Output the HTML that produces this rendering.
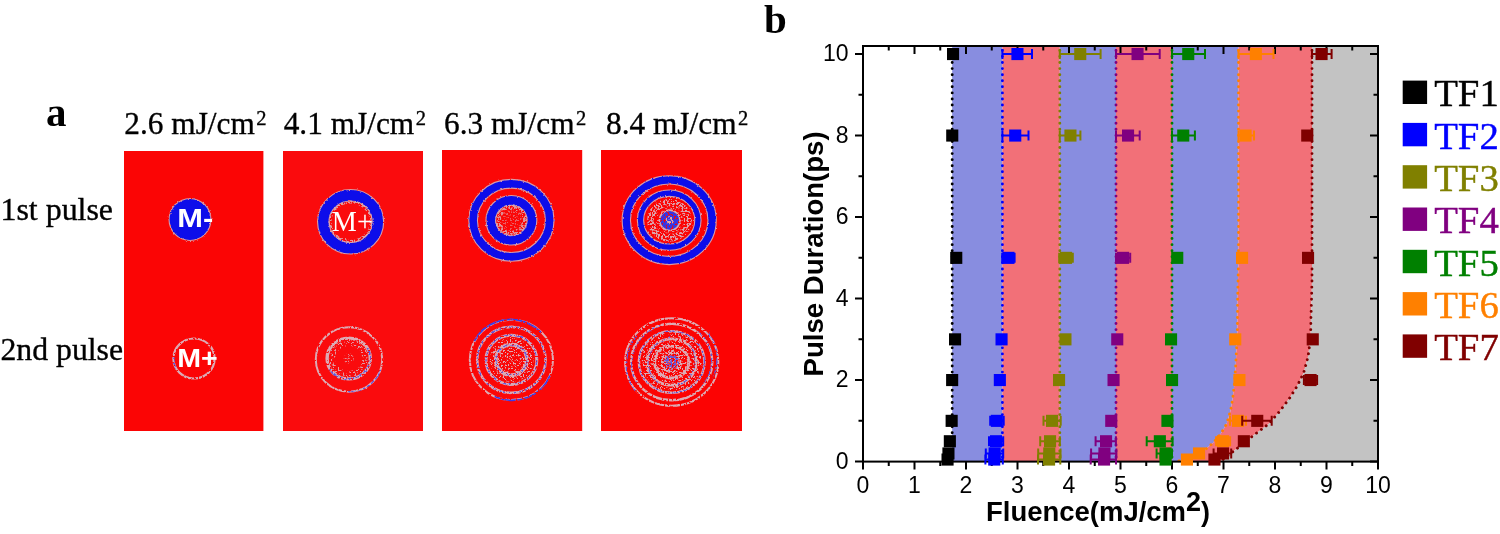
<!DOCTYPE html>
<html lang="en"><head><meta charset="utf-8"><title>Figure</title>
<style>
html,body{margin:0;padding:0;background:#fff}
body{width:1500px;height:534px;overflow:hidden}
svg{display:block}
.serif{font-family:"Liberation Serif",serif}
.sans{font-family:"Liberation Sans",sans-serif}
</style></head><body>
<svg width="1500" height="534" viewBox="0 0 1500 534">
<defs>
<filter id="rough" x="-10%" y="-10%" width="120%" height="120%"><feTurbulence type="fractalNoise" baseFrequency="0.6" numOctaves="2" seed="3" result="n"/><feDisplacementMap in="SourceGraphic" in2="n" scale="2.4" xChannelSelector="R" yChannelSelector="G"/></filter>
<filter id="dense" x="-10%" y="-10%" width="120%" height="120%"><feTurbulence type="fractalNoise" baseFrequency="0.5" numOctaves="2" seed="11" result="n"/><feColorMatrix in="n" type="matrix" values="0 0 0 0 0 0 0 0 0 0 0 0 0 0 0 9 0 0 0 -3.3" result="m"/><feDisplacementMap in="SourceGraphic" in2="n" scale="1.6" xChannelSelector="G" yChannelSelector="B" result="d"/><feComposite in="d" in2="m" operator="in"/></filter>
<filter id="mid" x="-10%" y="-10%" width="120%" height="120%"><feTurbulence type="fractalNoise" baseFrequency="0.55" numOctaves="2" seed="23" result="n"/><feColorMatrix in="n" type="matrix" values="0 0 0 0 0 0 0 0 0 0 0 0 0 0 0 10 0 0 0 -4.7" result="m"/><feDisplacementMap in="SourceGraphic" in2="n" scale="2.0" xChannelSelector="G" yChannelSelector="B" result="d"/><feComposite in="d" in2="m" operator="in"/></filter>
<filter id="sparse" x="-10%" y="-10%" width="120%" height="120%"><feTurbulence type="fractalNoise" baseFrequency="0.6" numOctaves="2" seed="37" result="n"/><feColorMatrix in="n" type="matrix" values="0 0 0 0 0 0 0 0 0 0 0 0 0 0 0 11 0 0 0 -6.1" result="m"/><feDisplacementMap in="SourceGraphic" in2="n" scale="2.0" xChannelSelector="G" yChannelSelector="B" result="d"/><feComposite in="d" in2="m" operator="in"/></filter>
</defs>
<rect x="124" y="151" width="139.4" height="280" fill="#fb0505"/>
<rect x="283" y="151" width="140" height="280" fill="#fa0b0d"/>
<rect x="442" y="150" width="140.2" height="281" fill="#fb0707"/>
<rect x="601" y="150" width="141" height="281" fill="#fc0303"/>
<g filter="url(#rough)">
<circle cx="190" cy="219.5" r="21.5" fill="#d79aa8"/>
<circle cx="190" cy="219.5" r="20.4" fill="#0c0cea"/>
<ellipse cx="350.6" cy="221.7" rx="27.299999999999997" ry="26.5" fill="none" stroke="#d79aa8" stroke-width="12.6"/>
<ellipse cx="350.6" cy="221.7" rx="27.299999999999997" ry="26.5" fill="none" stroke="#0c0cea" stroke-width="10.4"/>
<ellipse cx="511.4" cy="220.3" rx="38.3" ry="36.55" fill="none" stroke="#d79aa8" stroke-width="9.8"/>
<ellipse cx="511.4" cy="220.3" rx="38.3" ry="36.55" fill="none" stroke="#0c0cea" stroke-width="7.6"/>
<ellipse cx="511.4" cy="220.3" rx="20.6" ry="19.9" fill="none" stroke="#d79aa8" stroke-width="10.8"/>
<ellipse cx="511.4" cy="220.3" rx="20.6" ry="19.9" fill="none" stroke="#0c0cea" stroke-width="8.6"/>
<ellipse cx="669.2" cy="220.2" rx="42.9" ry="40.3" fill="none" stroke="#d79aa8" stroke-width="9.4"/>
<ellipse cx="669.2" cy="220.2" rx="42.9" ry="40.3" fill="none" stroke="#0c0cea" stroke-width="7.2"/>
<ellipse cx="669.2" cy="220.2" rx="28.700000000000003" ry="27.0" fill="none" stroke="#d79aa8" stroke-width="7.4"/>
<ellipse cx="669.2" cy="220.2" rx="28.700000000000003" ry="27.0" fill="none" stroke="#0c0cea" stroke-width="5.2"/>
</g>
<g filter="url(#mid)">
<ellipse cx="350.6" cy="221.7" rx="20.6" ry="19.8" fill="none" stroke="#dcaab4" stroke-width="3.0" opacity="0.9"/>
<ellipse cx="511.4" cy="220.3" rx="13.4" ry="13.2" fill="none" stroke="#dcaab4" stroke-width="5.5" opacity="0.85"/>
<ellipse cx="669.4" cy="220.3" rx="18.4" ry="17.6" fill="none" stroke="#dcaab4" stroke-width="7.6" opacity="0.95"/>
</g>
<g filter="url(#sparse)">
<circle cx="511.4" cy="220.3" r="10" fill="#dcaab4" opacity="0.55"/>
<ellipse cx="669.4" cy="220.3" rx="11.6" ry="11.2" fill="none" stroke="#dcaab4" stroke-width="3.6" opacity="0.8"/>
</g>
<g filter="url(#dense)">
<circle cx="669.6999999999999" cy="220.3" r="11" fill="#dcaab4"/>
<circle cx="669.6999999999999" cy="220.3" r="9.4" fill="#3636e4"/>
</g>
<g filter="url(#mid)">
<circle cx="669.6999999999999" cy="220.3" r="4" fill="#dcaab4"/>
</g>
<g filter="url(#dense)">
<ellipse cx="194" cy="358.5" rx="20.6" ry="20.0" fill="none" stroke="#dcaab4" stroke-width="2.2" opacity="1"/>
<ellipse cx="349" cy="359.5" rx="33.2" ry="32.2" fill="none" stroke="#dcaab4" stroke-width="2.0" opacity="1"/>
<ellipse cx="348.7" cy="358.5" rx="21.6" ry="20.4" fill="none" stroke="#dcaab4" stroke-width="3.4" opacity="1"/>
<ellipse cx="511.4" cy="359.9" rx="41.6" ry="40.2" fill="none" stroke="#dcaab4" stroke-width="2.0" opacity="1"/>
<ellipse cx="511.4" cy="359.9" rx="34.2" ry="33.0" fill="none" stroke="#dcaab4" stroke-width="2.6" opacity="1"/>
<ellipse cx="511.4" cy="359.9" rx="25.4" ry="24.6" fill="none" stroke="#dcaab4" stroke-width="3.0" opacity="1"/>
<ellipse cx="511.4" cy="359.9" rx="15.6" ry="15.2" fill="none" stroke="#dcaab4" stroke-width="3.8" opacity="1"/>
<ellipse cx="671.7" cy="362" rx="46.6" ry="43.8" fill="none" stroke="#dcaab4" stroke-width="2.0" opacity="1"/>
<ellipse cx="671.7" cy="362" rx="40.6" ry="38.2" fill="none" stroke="#dcaab4" stroke-width="2.4" opacity="1"/>
<ellipse cx="671.7" cy="362" rx="32.8" ry="30.8" fill="none" stroke="#dcaab4" stroke-width="2.6" opacity="1"/>
<ellipse cx="671.7" cy="362" rx="24.6" ry="23.2" fill="none" stroke="#dcaab4" stroke-width="2.8" opacity="1"/>
<ellipse cx="671.7" cy="362" rx="17.0" ry="16.0" fill="none" stroke="#dcaab4" stroke-width="3.0" opacity="1"/>
</g>
<g filter="url(#mid)">
<circle cx="671.7" cy="362" r="11" fill="#dcaab4"/>
</g>
<g filter="url(#sparse)">
<circle cx="348.7" cy="358.5" r="5" fill="#dcaab4" opacity="0.8"/>
<ellipse cx="348.7" cy="358.5" rx="16.6" ry="15.6" fill="none" stroke="#dcaab4" stroke-width="6" opacity="0.9"/>
<circle cx="511.4" cy="359.9" r="22" fill="#dcaab4"/>
<circle cx="671.7" cy="362" r="30" fill="#dcaab4"/>
</g>
<g filter="url(#mid)">
<ellipse cx="194" cy="358.5" rx="20.6" ry="20.0" fill="none" stroke="#5a5ae6" stroke-width="1.8" opacity="1" stroke-dasharray="13 200" transform="rotate(150 194 358.5)"/>
<ellipse cx="349" cy="359.5" rx="33.2" ry="32.2" fill="none" stroke="#5a5ae6" stroke-width="1.5" opacity="1" stroke-dasharray="42 400" transform="rotate(18 349 359.5)"/>
<ellipse cx="348.7" cy="358.5" rx="21.6" ry="20.4" fill="none" stroke="#5a5ae6" stroke-width="2.0" opacity="1" stroke-dasharray="66 300" transform="rotate(-30 348.7 358.5)"/>
<ellipse cx="511.4" cy="359.9" rx="34.2" ry="33.0" fill="none" stroke="#5a5ae6" stroke-width="1.5" opacity="1"/>
<ellipse cx="511.4" cy="359.9" rx="25.4" ry="24.6" fill="none" stroke="#5a5ae6" stroke-width="1.5" opacity="1"/>
<ellipse cx="511.4" cy="359.9" rx="15.6" ry="15.2" fill="none" stroke="#5a5ae6" stroke-width="1.6" opacity="1"/>
<ellipse cx="671.7" cy="362" rx="46.6" ry="43.8" fill="none" stroke="#5a5ae6" stroke-width="1.5" opacity="1" stroke-dasharray="50 95 60 400" transform="rotate(-42 671.7 362)"/>
<ellipse cx="671.7" cy="362" rx="40.6" ry="38.2" fill="none" stroke="#5a5ae6" stroke-width="1.3" opacity="1" stroke-dasharray="70 40 60 400" transform="rotate(150 671.7 362)"/>
<ellipse cx="671.7" cy="362" rx="32.8" ry="30.8" fill="none" stroke="#5a5ae6" stroke-width="1.3" opacity="1"/>
<ellipse cx="671.7" cy="362" rx="24.6" ry="23.2" fill="none" stroke="#5a5ae6" stroke-width="1.3" opacity="1" stroke-dasharray="60 20 50 400" transform="rotate(120 671.7 362)"/>
<circle cx="671.7" cy="362" r="7.5" fill="#5a5ae6"/>
</g>
<g filter="url(#dense)">
<ellipse cx="511.4" cy="359.9" rx="41.6" ry="40.2" fill="none" stroke="#3a3ae6" stroke-width="1.7" opacity="1" stroke-dasharray="66 66 78 400" transform="rotate(22 511.4 359.9)"/>
</g>
<text class="sans" x="177.2" y="227.0" font-size="26.5" font-weight="bold" fill="#fff" textLength="36" lengthAdjust="spacingAndGlyphs">M-</text>
<text class="sans" x="177.2" y="367.2" font-size="26.5" font-weight="bold" fill="#fff" textLength="40.5" lengthAdjust="spacingAndGlyphs">M+</text>
<text class="serif" x="331.8" y="230.9" font-size="30" fill="#fff" textLength="41" lengthAdjust="spacingAndGlyphs">M+</text>
<text class="serif" x="46" y="126" font-size="41" font-weight="bold" fill="#000">a</text>
<text class="serif" x="124.3" y="133.8" font-size="32" fill="#000" stroke="#000" stroke-width="0.35"><tspan textLength="130.5" lengthAdjust="spacingAndGlyphs">2.6 mJ/cm</tspan><tspan dx="1.5" dy="-8.6" font-size="20.5">2</tspan></text>
<text class="serif" x="283.7" y="133.8" font-size="32" fill="#000" stroke="#000" stroke-width="0.35"><tspan textLength="130.5" lengthAdjust="spacingAndGlyphs">4.1 mJ/cm</tspan><tspan dx="1.5" dy="-8.6" font-size="20.5">2</tspan></text>
<text class="serif" x="444.0" y="133.8" font-size="32" fill="#000" stroke="#000" stroke-width="0.35"><tspan textLength="130.5" lengthAdjust="spacingAndGlyphs">6.3 mJ/cm</tspan><tspan dx="1.5" dy="-8.6" font-size="20.5">2</tspan></text>
<text class="serif" x="606.0" y="133.8" font-size="32" fill="#000" stroke="#000" stroke-width="0.35"><tspan textLength="130.5" lengthAdjust="spacingAndGlyphs">8.4 mJ/cm</tspan><tspan dx="1.5" dy="-8.6" font-size="20.5">2</tspan></text>
<text class="serif" x="0.5" y="220.1" font-size="30.5" fill="#000" stroke="#000" stroke-width="0.35" textLength="112.5" lengthAdjust="spacingAndGlyphs">1st pulse</text>
<text class="serif" x="0.5" y="360.4" font-size="30.5" fill="#000" stroke="#000" stroke-width="0.35" textLength="122.5" lengthAdjust="spacingAndGlyphs">2nd pulse</text>
<text class="serif" x="764.0" y="32.8" font-size="41" font-weight="bold" fill="#000">b</text>
<rect x="952.2" y="46.0" width="50.19999999999993" height="415.6" fill="#888de0"/>
<rect x="1002.4" y="46.0" width="57.39999999999998" height="415.6" fill="#f27078"/>
<rect x="1059.8" y="46.0" width="56.200000000000045" height="415.6" fill="#888de0"/>
<rect x="1116.0" y="46.0" width="56.0" height="415.6" fill="#f27078"/>
<polygon points="1172.0,46.0 1238.5,46.0 1238.5,260.0 1237.6,300.0 1237.4,331.8 1235.8,363.6 1234.6,382.7 1232.7,398.6 1230.4,411.3 1226.6,424.0 1220.9,433.6 1212.9,443.1 1203.4,451.1 1192.3,456.5 1182.7,460.0 1175.0,461.6 1172.0,461.6" fill="#888de0"/>
<polygon points="1238.5,46.0 1238.5,260.0 1237.6,300.0 1237.4,331.8 1235.8,363.6 1234.6,382.7 1232.7,398.6 1230.4,411.3 1226.6,424.0 1220.9,433.6 1212.9,443.1 1203.4,451.1 1192.3,456.5 1182.7,460.0 1175.0,461.6 1220.5,461.6 1228.0,455.6 1240.5,445.8 1254.0,435.0 1268.6,424.0 1279.7,411.3 1289.3,398.6 1297.2,386.0 1303.6,373.0 1308.0,357.0 1310.6,338.0 1310.9,319.0 1311.5,300.0 1312.0,280.0 1312.0,46.0" fill="#f27078"/>
<polygon points="1312.0,46.0 1312.0,280.0 1311.5,300.0 1310.9,319.0 1310.6,338.0 1308.0,357.0 1303.6,373.0 1297.2,386.0 1289.3,398.6 1279.7,411.3 1268.6,424.0 1254.0,435.0 1240.5,445.8 1228.0,455.6 1220.5,461.6 1378.0,461.6 1378.0,46.0" fill="#c3c3c3"/>
<polyline points="952.2,50.4 952.2,461.6" fill="none" stroke="#000000" stroke-width="2.9" stroke-linecap="round" stroke-dasharray="0.01 6.06"/>
<polyline points="1002.4,50.4 1002.4,461.6" fill="none" stroke="#0000ff" stroke-width="2.9" stroke-linecap="round" stroke-dasharray="0.01 6.06"/>
<polyline points="1059.8,50.4 1059.8,461.6" fill="none" stroke="#808000" stroke-width="2.9" stroke-linecap="round" stroke-dasharray="0.01 6.06"/>
<polyline points="1116.0,50.4 1116.0,461.6" fill="none" stroke="#800080" stroke-width="2.9" stroke-linecap="round" stroke-dasharray="0.01 6.06"/>
<polyline points="1172.0,50.4 1172.0,461.6" fill="none" stroke="#008000" stroke-width="2.9" stroke-linecap="round" stroke-dasharray="0.01 6.06"/>
<polyline points="1238.5,50.4 1238.5,260.0 1237.6,300.0 1237.4,331.8 1235.8,363.6 1234.6,382.7 1232.7,398.6 1230.4,411.3 1226.6,424.0 1220.9,433.6 1212.9,443.1 1203.4,451.1 1192.3,456.5 1182.7,460.0 1175.0,461.6" fill="none" stroke="#ff8000" stroke-width="2.9" stroke-linecap="round" stroke-dasharray="0.01 6.06"/>
<polyline points="1312.0,50.4 1312.0,280.0 1311.5,300.0 1310.9,319.0 1310.6,338.0 1308.0,357.0 1303.6,373.0 1297.2,386.0 1289.3,398.6 1279.7,411.3 1268.6,424.0 1254.0,435.0 1240.5,445.8 1228.0,455.6 1220.5,461.6" fill="none" stroke="#800000" stroke-width="2.9" stroke-linecap="round" stroke-dasharray="0.01 6.06"/>
<g stroke="#000" stroke-width="2" fill="none">
<rect x="863.0" y="46.0" width="515.0" height="415.6"/>
<path d="M863.00,461.6v8M863.00,46.0v8M888.75,461.6v4.5M888.75,46.0v4.5M914.50,461.6v8M914.50,46.0v8M940.25,461.6v4.5M940.25,46.0v4.5M966.00,461.6v8M966.00,46.0v8M991.75,461.6v4.5M991.75,46.0v4.5M1017.50,461.6v8M1017.50,46.0v8M1043.25,461.6v4.5M1043.25,46.0v4.5M1069.00,461.6v8M1069.00,46.0v8M1094.75,461.6v4.5M1094.75,46.0v4.5M1120.50,461.6v8M1120.50,46.0v8M1146.25,461.6v4.5M1146.25,46.0v4.5M1172.00,461.6v8M1172.00,46.0v8M1197.75,461.6v4.5M1197.75,46.0v4.5M1223.50,461.6v8M1223.50,46.0v8M1249.25,461.6v4.5M1249.25,46.0v4.5M1275.00,461.6v8M1275.00,46.0v8M1300.75,461.6v4.5M1300.75,46.0v4.5M1326.50,461.6v8M1326.50,46.0v8M1352.25,461.6v4.5M1352.25,46.0v4.5M1378.00,461.6v8M1378.00,46.0v8M863.0,461.60h-8M1378.0,461.60h-8M863.0,420.84h-4.5M1378.0,420.84h-4.5M863.0,380.08h-8M1378.0,380.08h-8M863.0,339.32h-4.5M1378.0,339.32h-4.5M863.0,298.56h-8M1378.0,298.56h-8M863.0,257.80h-4.5M1378.0,257.80h-4.5M863.0,217.04h-8M1378.0,217.04h-8M863.0,176.28h-4.5M1378.0,176.28h-4.5M863.0,135.52h-8M1378.0,135.52h-8M863.0,94.76h-4.5M1378.0,94.76h-4.5M863.0,54.00h-8M1378.0,54.00h-8"/>
</g>
<g class="sans" font-size="23" fill="#000">
<text x="863.0" y="493.3" text-anchor="middle">0</text>
<text x="914.5" y="493.3" text-anchor="middle">1</text>
<text x="966.0" y="493.3" text-anchor="middle">2</text>
<text x="1017.5" y="493.3" text-anchor="middle">3</text>
<text x="1069.0" y="493.3" text-anchor="middle">4</text>
<text x="1120.5" y="493.3" text-anchor="middle">5</text>
<text x="1172.0" y="493.3" text-anchor="middle">6</text>
<text x="1223.5" y="493.3" text-anchor="middle">7</text>
<text x="1275.0" y="493.3" text-anchor="middle">8</text>
<text x="1326.5" y="493.3" text-anchor="middle">9</text>
<text x="1378.0" y="493.3" text-anchor="middle">10</text>
<text x="848.6" y="468.6" text-anchor="end">0</text>
<text x="848.6" y="387.1" text-anchor="end">2</text>
<text x="848.6" y="305.6" text-anchor="end">4</text>
<text x="848.6" y="224.0" text-anchor="end">6</text>
<text x="848.6" y="142.5" text-anchor="end">8</text>
<text x="848.6" y="61.0" text-anchor="end">10</text>
</g>
<text class="sans" font-weight="bold" font-size="27" fill="#000" x="986" y="520.5"><tspan textLength="200" lengthAdjust="spacingAndGlyphs">Fluence(mJ/cm</tspan><tspan dy="-10">2</tspan><tspan dy="10">)</tspan></text>
<text class="sans" font-weight="bold" font-size="27" fill="#000" transform="translate(823.3 376.4) rotate(-90)" textLength="245" lengthAdjust="spacingAndGlyphs">Pulse Duration(ps)</text>
<rect x="947.0" y="48.0" width="12.1" height="12.1" fill="#000000"/>
<path d="M1002.4,54.0H1032.0M1002.4,49.0v10M1032.0,49.0v10" stroke="#0000ff" stroke-width="2" fill="none"/>
<rect x="1011.4" y="48.0" width="12.1" height="12.1" fill="#0000ff"/>
<path d="M1059.8,54.0H1100.6M1059.8,49.0v10M1100.6,49.0v10" stroke="#808000" stroke-width="2" fill="none"/>
<rect x="1074.2" y="48.0" width="12.1" height="12.1" fill="#808000"/>
<path d="M1116.0,54.0H1159.7M1116.0,49.0v10M1159.7,49.0v10" stroke="#800080" stroke-width="2" fill="none"/>
<rect x="1131.5" y="48.0" width="12.1" height="12.1" fill="#800080"/>
<path d="M1172.0,54.0H1205.0M1172.0,49.0v10M1205.0,49.0v10" stroke="#008000" stroke-width="2" fill="none"/>
<rect x="1182.2" y="48.0" width="12.1" height="12.1" fill="#008000"/>
<path d="M1238.5,54.0H1273.5M1238.5,49.0v10M1273.5,49.0v10" stroke="#ff8000" stroke-width="2" fill="none"/>
<rect x="1249.8" y="48.0" width="12.1" height="12.1" fill="#ff8000"/>
<path d="M1312.0,54.0H1331.6M1312.0,49.0v10M1331.6,49.0v10" stroke="#800000" stroke-width="2" fill="none"/>
<rect x="1315.5" y="48.0" width="12.1" height="12.1" fill="#800000"/>
<rect x="946.2" y="129.5" width="12.1" height="12.1" fill="#000000"/>
<path d="M1002.4,135.5H1028.5M1002.4,130.5v10M1028.5,130.5v10" stroke="#0000ff" stroke-width="2" fill="none"/>
<rect x="1009.2" y="129.5" width="12.1" height="12.1" fill="#0000ff"/>
<path d="M1059.8,135.5H1080.4M1059.8,130.5v10M1080.4,130.5v10" stroke="#808000" stroke-width="2" fill="none"/>
<rect x="1064.4" y="129.5" width="12.1" height="12.1" fill="#808000"/>
<path d="M1116.0,135.5H1139.7M1116.0,130.5v10M1139.7,130.5v10" stroke="#800080" stroke-width="2" fill="none"/>
<rect x="1122.0" y="129.5" width="12.1" height="12.1" fill="#800080"/>
<path d="M1172.0,135.5H1194.9M1172.0,130.5v10M1194.9,130.5v10" stroke="#008000" stroke-width="2" fill="none"/>
<rect x="1177.2" y="129.5" width="12.1" height="12.1" fill="#008000"/>
<path d="M1238.5,135.5H1254.0M1238.5,130.5v10M1254.0,130.5v10" stroke="#ff8000" stroke-width="2" fill="none"/>
<rect x="1239.5" y="129.5" width="12.1" height="12.1" fill="#ff8000"/>
<rect x="1301.2" y="129.5" width="12.1" height="12.1" fill="#800000"/>
<rect x="950.2" y="251.8" width="12.1" height="12.1" fill="#000000"/>
<path d="M1002.2,257.8H1014.6M1002.2,252.8v10M1014.6,252.8v10" stroke="#0000ff" stroke-width="2" fill="none"/>
<rect x="1002.4" y="251.8" width="12.1" height="12.1" fill="#0000ff"/>
<path d="M1059.2,257.8H1072.8M1059.2,252.8v10M1072.8,252.8v10" stroke="#808000" stroke-width="2" fill="none"/>
<rect x="1060.0" y="251.8" width="12.1" height="12.1" fill="#808000"/>
<path d="M1116.0,257.8H1130.2M1116.0,252.8v10M1130.2,252.8v10" stroke="#800080" stroke-width="2" fill="none"/>
<rect x="1117.0" y="251.8" width="12.1" height="12.1" fill="#800080"/>
<rect x="1171.2" y="251.8" width="12.1" height="12.1" fill="#008000"/>
<rect x="1236.0" y="251.8" width="12.1" height="12.1" fill="#ff8000"/>
<rect x="1302.0" y="251.8" width="12.1" height="12.1" fill="#800000"/>
<rect x="949.0" y="333.3" width="12.1" height="12.1" fill="#000000"/>
<rect x="995.5" y="333.3" width="12.1" height="12.1" fill="#0000ff"/>
<rect x="1059.4" y="333.3" width="12.1" height="12.1" fill="#808000"/>
<rect x="1111.2" y="333.3" width="12.1" height="12.1" fill="#800080"/>
<rect x="1165.0" y="333.3" width="12.1" height="12.1" fill="#008000"/>
<rect x="1229.2" y="333.3" width="12.1" height="12.1" fill="#ff8000"/>
<rect x="1306.7" y="333.3" width="12.1" height="12.1" fill="#800000"/>
<rect x="946.1" y="374.0" width="12.1" height="12.1" fill="#000000"/>
<rect x="993.8" y="374.0" width="12.1" height="12.1" fill="#0000ff"/>
<rect x="1053.0" y="374.0" width="12.1" height="12.1" fill="#808000"/>
<rect x="1107.5" y="374.0" width="12.1" height="12.1" fill="#800080"/>
<rect x="1166.0" y="374.0" width="12.1" height="12.1" fill="#008000"/>
<rect x="1233.4" y="374.0" width="12.1" height="12.1" fill="#ff8000"/>
<path d="M1303.9,380.1H1317.1M1303.9,375.1v10M1317.1,375.1v10" stroke="#800000" stroke-width="2" fill="none"/>
<rect x="1304.5" y="374.0" width="12.1" height="12.1" fill="#800000"/>
<rect x="945.6" y="414.8" width="12.1" height="12.1" fill="#000000"/>
<path d="M990.2,420.8H1003.7M990.2,415.8v10M1003.7,415.8v10" stroke="#0000ff" stroke-width="2" fill="none"/>
<rect x="990.8" y="414.8" width="12.1" height="12.1" fill="#0000ff"/>
<path d="M1043.5,420.8H1060.7M1043.5,415.8v10M1060.7,415.8v10" stroke="#808000" stroke-width="2" fill="none"/>
<rect x="1046.0" y="414.8" width="12.1" height="12.1" fill="#808000"/>
<rect x="1105.2" y="414.8" width="12.1" height="12.1" fill="#800080"/>
<rect x="1161.4" y="414.8" width="12.1" height="12.1" fill="#008000"/>
<path d="M1230.0,420.8H1246.0M1230.0,415.8v10M1246.0,415.8v10" stroke="#ff8000" stroke-width="2" fill="none"/>
<rect x="1232.0" y="414.8" width="12.1" height="12.1" fill="#ff8000"/>
<path d="M1242.2,420.8H1271.7M1242.2,415.8v10M1271.7,415.8v10" stroke="#800000" stroke-width="2" fill="none"/>
<rect x="1251.2" y="414.8" width="12.1" height="12.1" fill="#800000"/>
<rect x="943.8" y="435.2" width="12.1" height="12.1" fill="#000000"/>
<path d="M989.0,441.2H1003.2M989.0,436.2v10M1003.2,436.2v10" stroke="#0000ff" stroke-width="2" fill="none"/>
<rect x="990.0" y="435.2" width="12.1" height="12.1" fill="#0000ff"/>
<path d="M1040.2,441.2H1059.9M1040.2,436.2v10M1059.9,436.2v10" stroke="#808000" stroke-width="2" fill="none"/>
<rect x="1044.0" y="435.2" width="12.1" height="12.1" fill="#808000"/>
<path d="M1095.6,441.2H1115.9M1095.6,436.2v10M1115.9,436.2v10" stroke="#800080" stroke-width="2" fill="none"/>
<rect x="1100.0" y="435.2" width="12.1" height="12.1" fill="#800080"/>
<rect x="942.4" y="447.4" width="12.1" height="12.1" fill="#000000"/>
<path d="M985.8,453.4H1003.2M985.8,448.4v10M1003.2,448.4v10" stroke="#0000ff" stroke-width="2" fill="none"/>
<rect x="988.6" y="447.4" width="12.1" height="12.1" fill="#0000ff"/>
<path d="M1038.2,453.4H1060.5M1038.2,448.4v10M1060.5,448.4v10" stroke="#808000" stroke-width="2" fill="none"/>
<rect x="1043.2" y="447.4" width="12.1" height="12.1" fill="#808000"/>
<path d="M1091.1,453.4H1116.4M1091.1,448.4v10M1116.4,448.4v10" stroke="#800080" stroke-width="2" fill="none"/>
<rect x="1098.4" y="447.4" width="12.1" height="12.1" fill="#800080"/>
<rect x="941.5" y="453.5" width="12.1" height="12.1" fill="#000000"/>
<path d="M985.4,459.6H1002.8M985.4,454.6v10M1002.8,454.6v10" stroke="#0000ff" stroke-width="2" fill="none"/>
<rect x="988.2" y="453.5" width="12.1" height="12.1" fill="#0000ff"/>
<path d="M1038.0,459.6H1060.3M1038.0,454.6v10M1060.3,454.6v10" stroke="#808000" stroke-width="2" fill="none"/>
<rect x="1043.0" y="453.5" width="12.1" height="12.1" fill="#808000"/>
<path d="M1090.7,459.6H1116.0M1090.7,454.6v10M1116.0,454.6v10" stroke="#800080" stroke-width="2" fill="none"/>
<rect x="1098.0" y="453.5" width="12.1" height="12.1" fill="#800080"/>
<path d="M1146.7,441.2H1172.6M1146.7,436.2v10M1172.6,436.2v10" stroke="#008000" stroke-width="2" fill="none"/>
<rect x="1153.8" y="435.2" width="12.1" height="12.1" fill="#008000"/>
<path d="M1156.6,453.4H1172.0M1156.6,448.4v10M1172.0,448.4v10" stroke="#008000" stroke-width="2" fill="none"/>
<rect x="1159.5" y="447.4" width="12.1" height="12.1" fill="#008000"/>
<rect x="1159.5" y="453.5" width="12.1" height="12.1" fill="#008000"/>
<path d="M1216.1,441.2H1230.1M1216.1,436.2v10M1230.1,436.2v10" stroke="#ff8000" stroke-width="2" fill="none"/>
<rect x="1217.0" y="435.2" width="12.1" height="12.1" fill="#ff8000"/>
<rect x="1237.8" y="435.2" width="12.1" height="12.1" fill="#800000"/>
<rect x="1193.0" y="447.4" width="12.1" height="12.1" fill="#ff8000"/>
<path d="M1213.6,453.4H1231.2M1213.6,448.4v10M1231.2,448.4v10" stroke="#800000" stroke-width="2" fill="none"/>
<rect x="1217.0" y="447.4" width="12.1" height="12.1" fill="#800000"/>
<rect x="1180.9" y="453.5" width="12.1" height="12.1" fill="#ff8000"/>
<rect x="1208.4" y="453.5" width="12.1" height="12.1" fill="#800000"/>
<rect x="1402.7" y="80.6" width="24.4" height="23.4" fill="#000000"/>
<text class="serif" x="1434.2" y="106.2" font-size="38" fill="#000000" stroke="#000000" stroke-width="0.4" textLength="64.6" lengthAdjust="spacingAndGlyphs">TF1</text>
<rect x="1402.7" y="122.9" width="24.4" height="23.4" fill="#0000ff"/>
<text class="serif" x="1434.2" y="148.5" font-size="38" fill="#0000ff" stroke="#0000ff" stroke-width="0.4" textLength="64.6" lengthAdjust="spacingAndGlyphs">TF2</text>
<rect x="1402.7" y="165.2" width="24.4" height="23.4" fill="#808000"/>
<text class="serif" x="1434.2" y="190.9" font-size="38" fill="#808000" stroke="#808000" stroke-width="0.4" textLength="64.6" lengthAdjust="spacingAndGlyphs">TF3</text>
<rect x="1402.7" y="207.5" width="24.4" height="23.4" fill="#800080"/>
<text class="serif" x="1434.2" y="233.2" font-size="38" fill="#800080" stroke="#800080" stroke-width="0.4" textLength="64.6" lengthAdjust="spacingAndGlyphs">TF4</text>
<rect x="1402.7" y="249.8" width="24.4" height="23.4" fill="#008000"/>
<text class="serif" x="1434.2" y="275.5" font-size="38" fill="#008000" stroke="#008000" stroke-width="0.4" textLength="64.6" lengthAdjust="spacingAndGlyphs">TF5</text>
<rect x="1402.7" y="292.1" width="24.4" height="23.4" fill="#ff8000"/>
<text class="serif" x="1434.2" y="317.8" font-size="38" fill="#ff8000" stroke="#ff8000" stroke-width="0.4" textLength="64.6" lengthAdjust="spacingAndGlyphs">TF6</text>
<rect x="1402.7" y="334.4" width="24.4" height="23.4" fill="#800000"/>
<text class="serif" x="1434.2" y="360.2" font-size="38" fill="#800000" stroke="#800000" stroke-width="0.4" textLength="64.6" lengthAdjust="spacingAndGlyphs">TF7</text>
</svg>
</body></html>
